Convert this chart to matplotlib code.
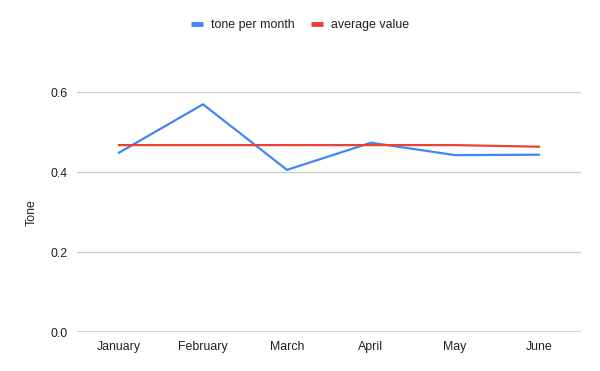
import matplotlib
matplotlib.use("Agg")
import matplotlib.pyplot as plt
from matplotlib.lines import Line2D

months = ["January", "February", "March", "April", "May", "June"]
tone_per_month = [0.449, 0.570, 0.406, 0.474, 0.443, 0.444]
average_value = [0.468, 0.468, 0.468, 0.468, 0.468, 0.464]
yticks = [0.0, 0.2, 0.4, 0.6]

plt.rcParams['font.family'] = ['Liberation Sans', 'DejaVu Sans']
fs = 8.9

fig = plt.figure(figsize=(6, 3.71), dpi=100)
ax = fig.add_axes([77/600, 1 - 332.3/371, 504/600, 240/371])

x = list(range(len(months)))
ax.plot(x, tone_per_month, color="#4285F4", lw=1.6, label="tone per month", zorder=4)
ax.plot(x, average_value, color="#EA4335", lw=1.6, label="average value", zorder=4)

ax.set_xlim(-0.5, len(months) - 0.5)
ax.set_ylim(0, 0.6)
ax.set_yticks(yticks)
ax.set_yticklabels([f"{v:.1f}" for v in yticks])
ax.set_xticks(x)
ax.set_xticklabels(months)
ax.tick_params(axis="both", length=0, labelsize=fs, colors="#222222")
ax.tick_params(axis="y", pad=7)
ax.tick_params(axis="x", pad=6)
for s in ax.spines.values():
    s.set_visible(False)
ax.grid(axis="y", color="#CCCCCC", lw=0.9, zorder=0)
ax.set_axisbelow(True)
ax.axhline(0, color="#333333", lw=1.0, zorder=3)
ax.set_ylabel("Tone", fontsize=fs, color="#222222", labelpad=9)

handles = [Line2D([], [], color="#4285F4", lw=3.5, solid_capstyle="butt"),
           Line2D([], [], color="#EA4335", lw=3.5, solid_capstyle="butt")]
fig.legend(handles, ["tone per month", "average value"], loc="center",
           bbox_to_anchor=(0.5, 1 - 25/371), ncol=2, frameon=False,
           fontsize=fs, handlelength=0.97, handletextpad=0.65, columnspacing=1.3,
           labelcolor="#222222")

fig.savefig("out.png", dpi=100)
